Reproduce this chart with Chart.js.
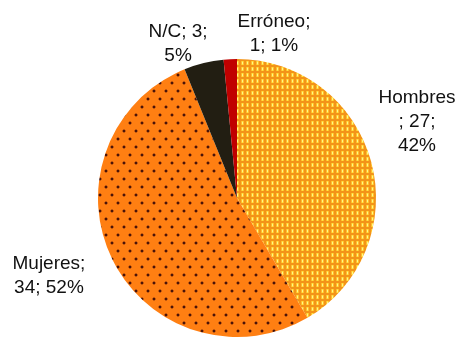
<!DOCTYPE html>
<html>
<head>
<meta charset="utf-8">
<script src="https://cdn.jsdelivr.net/npm/chart.js@4"></script>
<style>
html,body{margin:0;padding:0;background:#fff;}
#wrap{width:459px;height:338px;position:relative;}
</style>
</head>
<body>
<div id="wrap"><canvas id="c" width="459" height="338"></canvas></div>
<script>
// Data
const categories = ["Hombres", "Mujeres", "N/C", "Erróneo"];
const counts = [27, 34, 3, 1];
const percents = ["42%", "52%", "5%", "1%"];

// Label text lines (as in the reference)
const labelLines = [
  ["Hombres", "; 27;", "42%"],
  ["Mujeres;", "34; 52%"],
  ["N/C; 3;", "5%"],
  ["Erróneo;", "1; 1%"]
];
// Label centre offsets, in units of pie radius, relative to the pie centre
const labelOffsets = [
  [1.295, -0.55],
  [-1.353, 0.56],
  [-0.424, -1.11],
  [0.266, -1.183]
];

function makePattern(w, h, draw) {
  const cv = document.createElement('canvas');
  cv.width = w; cv.height = h;
  const g = cv.getContext('2d');
  draw(g);
  return document.getElementById('c').getContext('2d').createPattern(cv, 'repeat');
}

const hombresFill = makePattern(5, 6, g => {
  g.fillStyle = '#F39418';
  g.fillRect(0, 0, 5, 6);
  g.fillStyle = '#FFC02C';
  g.fillRect(1, 1, 3, 4);
  g.fillStyle = '#FFE443';
  g.fillRect(2, 1, 1, 4);
  g.fillStyle = '#FFF58A';
  g.fillRect(2, 2, 1, 2);
});

const mujeresFill = makePattern(12, 16, g => {
  g.fillStyle = '#FF7F12';
  g.fillRect(0, 0, 12, 16);
  g.fillStyle = '#C55A10';
  g.fillRect(3, 1, 2, 4);
  g.fillRect(2, 2, 4, 2);
  g.fillRect(9, 9, 2, 4);
  g.fillRect(8, 10, 4, 2);
  g.fillStyle = '#4A1408';
  g.fillRect(3, 2, 2, 2);
  g.fillRect(9, 10, 2, 2);
});

const colors = [hombresFill, mujeresFill, '#221E12', '#C00000'];

const labelPlugin = {
  id: 'pieLabels',
  afterDatasetsDraw(chart) {
    const ctx = chart.ctx;
    const meta = chart.getDatasetMeta(0);
    ctx.save();
    ctx.font = '19px "Liberation Sans", Arial, sans-serif';
    ctx.fillStyle = '#111111';
    ctx.textAlign = 'center';
    ctx.textBaseline = 'middle';
    const lh = 24;
    meta.data.forEach((arc, i) => {
      const r = arc.outerRadius;
      const cx = arc.x + labelOffsets[i][0] * r;
      const cy = arc.y + labelOffsets[i][1] * r;
      const lines = labelLines[i];
      const y0 = cy - (lines.length - 1) * lh / 2;
      lines.forEach((t, k) => ctx.fillText(t, cx, y0 + k * lh));
    });
    ctx.restore();
  }
};

new Chart(document.getElementById('c'), {
  type: 'pie',
  data: {
    labels: categories,
    datasets: [{
      data: counts,
      backgroundColor: colors,
      borderWidth: 0
    }]
  },
  options: {
    responsive: false,
    animation: false,
    layout: { padding: { left: 30, right: 15, top: 59, bottom: 1 } },
    plugins: {
      legend: { display: false },
      tooltip: { enabled: false }
    }
  },
  plugins: [labelPlugin]
});
</script>
</body>
</html>
